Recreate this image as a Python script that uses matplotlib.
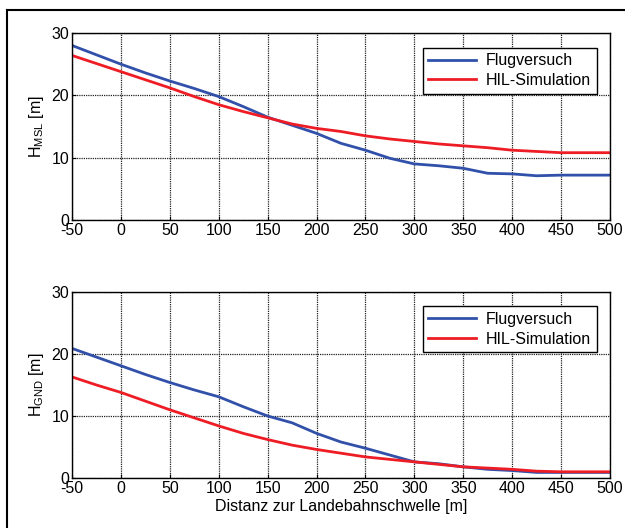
import numpy as np
import matplotlib.pyplot as plt
from matplotlib.lines import Line2D

plt.rcParams['font.family'] = ['Liberation Sans', 'DejaVu Sans']
plt.rcParams['mathtext.default'] = 'regular'
plt.rcParams['axes.unicode_minus'] = False

# Distanz zur Landebahnschwelle [m]
dist = [-50, -25, 0, 25, 50, 75, 100, 125, 150, 175, 200, 225, 250,
        275, 300, 325, 350, 375, 400, 425, 450, 475, 500]

# H_MSL [m]
msl_flug = [28.0, 26.5, 25.0, 23.6, 22.3, 21.1, 19.8, 18.2, 16.5, 15.2, 13.9, 12.3,
            11.2, 9.9, 9.0, 8.7, 8.3, 7.5, 7.4, 7.1, 7.2, 7.2, 7.2]
msl_hil = [26.4, 25.1, 23.8, 22.5, 21.2, 19.8, 18.5, 17.4, 16.4, 15.4, 14.7, 14.2,
           13.5, 13.0, 12.6, 12.2, 11.9, 11.6, 11.2, 11.0, 10.8, 10.8, 10.8]

# H_GND [m]
gnd_flug = [20.9, 19.5, 18.1, 16.7, 15.4, 14.2, 13.1, 11.5, 10.0, 8.9, 7.2, 5.8,
            4.8, 3.7, 2.6, 2.3, 1.8, 1.4, 1.2, 0.9, 0.9, 0.9, 0.9]
gnd_hil = [16.3, 15.0, 13.8, 12.4, 11.0, 9.7, 8.4, 7.2, 6.2, 5.3, 4.6, 4.0,
           3.4, 3.0, 2.6, 2.2, 1.8, 1.6, 1.4, 1.1, 1.0, 1.0, 1.0]

blue = '#3150AA'
red = '#EE1D25'

fig = plt.figure(figsize=(6.25, 5.28), dpi=100)

# figure frame (left and top edges visible)
fig.add_artist(Line2D([0.0112, 0.0112], [0.0, 0.981], transform=fig.transFigure,
                      color='k', lw=1.5))
fig.add_artist(Line2D([0.0112, 1.0], [0.981, 0.981], transform=fig.transFigure,
                      color='k', lw=1.5))

ax1 = fig.add_axes([0.1152, 0.5833, 0.8608, 0.3542])
ax2 = fig.add_axes([0.1152, 0.0947, 0.8608, 0.3523])


def style(ax, ylabel):
    ax.set_xlim(-50, 500)
    ax.set_ylim(0, 30)
    ax.set_xticks(np.arange(-50, 501, 50))
    ax.set_yticks([0, 10, 20, 30])
    ax.grid(True, color='#222222', linestyle=(0, (1, 0.8)), linewidth=0.9)
    ax.tick_params(direction='in', length=3, labelsize=11.5, pad=2, color='k')
    for s in ax.spines.values():
        s.set_linewidth(1.0)
    ax.set_ylabel(ylabel, fontsize=11.5, labelpad=4)
    leg = ax.legend(loc='upper right', bbox_to_anchor=(0.99, 0.965), fontsize=11.5,
                    fancybox=False, edgecolor='k', framealpha=1, handlelength=3.0,
                    borderpad=0.35, labelspacing=0.3, handletextpad=0.6)
    leg.get_frame().set_linewidth(1.0)


ax1.plot(dist, msl_flug, color=blue, lw=2, label='Flugversuch')
ax1.plot(dist, msl_hil, color=red, lw=2, label='HIL-Simulation')
style(ax1, 'H$_{MSL}$ [m]')

ax2.plot(dist, gnd_flug, color=blue, lw=2, label='Flugversuch')
ax2.plot(dist, gnd_hil, color=red, lw=2, label='HIL-Simulation')
style(ax2, 'H$_{GND}$ [m]')
ax2.set_xlabel('Distanz zur Landebahnschwelle [m]', fontsize=11.5, labelpad=2)

fig.savefig('out.png', dpi=100)
